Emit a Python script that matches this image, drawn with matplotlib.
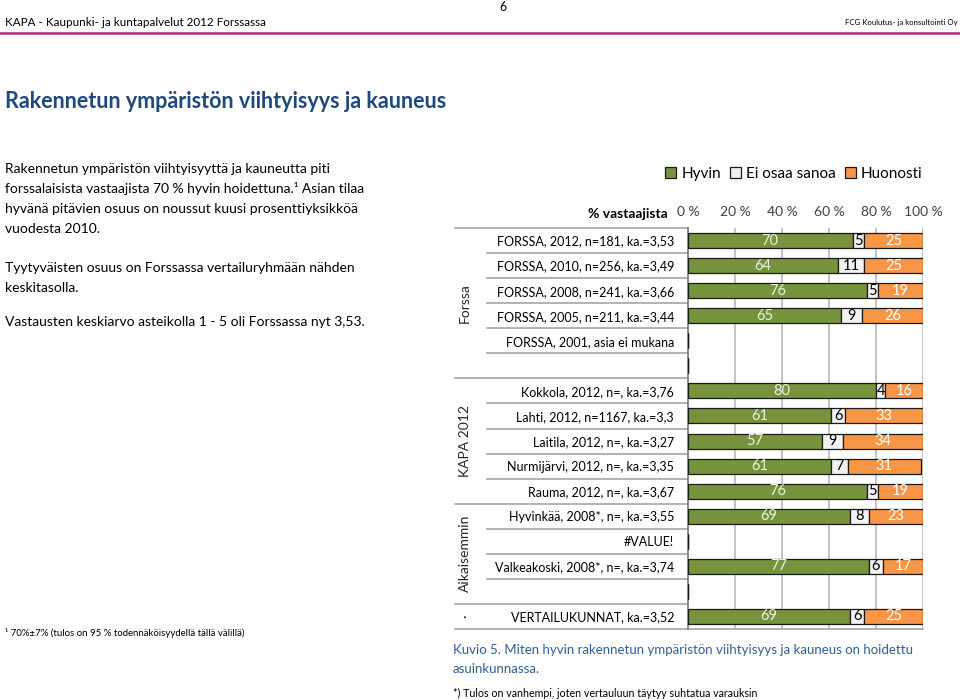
import matplotlib.pyplot as plt
import numpy as np
from matplotlib.lines import Line2D

plt.rcParams['font.family'] = ['Lato', 'DejaVu Sans']

# --- data ---
rows = ["FORSSA, 2012, n=181, ka.=3,53", "FORSSA, 2010, n=256, ka.=3,49",
        "FORSSA, 2008, n=241, ka.=3,66", "FORSSA, 2005, n=211, ka.=3,44",
        "FORSSA, 2001, asia ei mukana", "",
        "Kokkola, 2012, n=, ka.=3,76", "Lahti, 2012, n=1167, ka.=3,3",
        "Laitila, 2012, n=, ka.=3,27", "Nurmijärvi, 2012, n=, ka.=3,35",
        "Rauma, 2012, n=, ka.=3,67", "Hyvinkää, 2008*, n=, ka.=3,55",
        "#VALUE!", "Valkeakoski, 2008*, n=, ka.=3,74", "",
        "VERTAILUKUNNAT, ka.=3,52"]
hyvin = [70, 64, 76, 65, np.nan, np.nan, 80, 61, 57, 61, 76, 69, np.nan, 77, np.nan, 69]
eos = [5, 11, 5, 9, np.nan, np.nan, 4, 6, 9, 7, 5, 8, np.nan, 6, np.nan, 6]
huonosti = [25, 25, 19, 26, np.nan, np.nan, 16, 33, 34, 31, 19, 23, np.nan, 17, np.nan, 25]
series_names = ["Hyvin", "Ei osaa sanoa", "Huonosti"]
groups = [("Forssa", 0, 5), ("KAPA 2012", 6, 10), ("Aikaisemmin", 11, 14), ("·", 15, 15)]
xticks = [0, 20, 40, 60, 80, 100]

colors = ["#77933C", "#F2F2F2", "#F79646"]
txt_colors = ["#EBF1DE", "black", "white"]

W, H = 960, 700
fig = plt.figure(figsize=(9.6, 7), dpi=100)

def fx(px):
    return px / W

def fy(py):
    return 1 - py / H

# --- page header ---
fig.text(fx(503), fy(7), "6", fontsize=9, ha="center", va="center")
fig.text(fx(5), fy(23), "KAPA - Kaupunki- ja kuntapalvelut 2012 Forssassa", fontsize=8.4, va="center")
fig.text(fx(958), fy(23), "FCG Koulutus- ja konsultointi Oy", fontsize=5.6, ha="right", va="center")
fig.add_artist(Line2D([0, 1], [fy(33), fy(33)], color="#B4287F", lw=1.8))
fig.text(fx(5), fy(101), "Rakennetun ympäristön viihtyisyys ja kauneus", fontsize=15.5,
         fontweight="bold", color="#1F497D", va="center")

body = [(173, "Rakennetun ympäristön viihtyisyyttä ja kauneutta piti"),
        (193, "forssalaisista vastaajista 70 % hyvin hoidettuna.¹ Asian tilaa"),
        (213, "hyvänä pitävien osuus on noussut kuusi prosenttiyksikköä"),
        (233, "vuodesta 2010."),
        (272, "Tyytyväisten osuus on Forssassa vertailuryhmään nähden"),
        (292, "keskitasolla."),
        (326, "Vastausten keskiarvo asteikolla 1 - 5 oli Forssassa nyt 3,53.")]
for y, t in body:
    fig.text(fx(5), fy(y), t, fontsize=10, va="baseline")

fig.text(fx(5), fy(633), "¹ 70%±7% (tulos on 95 % todennäköisyydellä tällä välillä)", fontsize=6.9, va="center")
fig.text(fx(453), fy(650), "Kuvio 5. Miten hyvin rakennetun ympäristön viihtyisyys ja kauneus on hoidettu",
         fontsize=9.5, color="#2F6096", va="center")
fig.text(fx(453), fy(669), "asuinkunnassa.", fontsize=9.5, color="#2F6096", va="center")
fig.text(fx(453), fy(693), "*) Tulos on vanhempi, joten vertauluun täytyy suhtatua varauksin", fontsize=7.7, va="center")

# --- chart ---
left, right, top, bottom = 688, 923, 228, 629
ax = fig.add_axes([fx(left), fy(bottom), fx(right - left), (bottom - top) / H])
y = np.arange(len(rows))
start = np.zeros(len(rows))
containers = []
for vals, name, c, tc in zip([hyvin, eos, huonosti], series_names, colors, txt_colors):
    v = np.array(vals, dtype=float)
    bars = ax.barh(y, np.nan_to_num(v), left=start, height=0.6, color=c, edgecolor="#1a1a1a",
                   linewidth=0.9, label=name, zorder=3)
    labels = ["" if np.isnan(a) else f"{a:.0f}" for a in v]
    ax.bar_label(bars, labels=labels, label_type="center", color=tc, fontsize=10.5)
    containers.append(bars)
    start = start + np.nan_to_num(v)

ax.set_xlim(0, 100)
ax.set_ylim(len(rows) - 0.5, -0.5)
ax.xaxis.tick_top()
ax.set_xticks(xticks)
ax.set_xticklabels([f"{t} %" for t in xticks], fontsize=10, color="#404040")
ax.tick_params(axis="x", length=0, pad=7)
ax.set_yticks(y)
ax.set_yticklabels(rows, fontsize=9)
ax.tick_params(axis="y", length=0, pad=10)
for t in xticks[1:]:
    ax.axvline(t, color="#BFBFBF", lw=1.3, zorder=1)
for s in ["top", "right", "bottom"]:
    ax.spines[s].set_visible(False)
ax.spines["left"].set_color("#808080")
ax.spines["left"].set_linewidth(1.3)

ax.text(-0.085, 1 + 14 / (bottom - top), "% vastaajista", transform=ax.transAxes, ha="right",
        va="center", fontsize=10, fontweight="bold")

# separators in label column
trans = ax.get_yaxis_transform()
x_short = (487 - left) / (right - left)
x_long = (455 - left) / (right - left)
group_edges = [g[1] - 0.5 for g in groups] + [len(rows) - 0.5]
for i in range(len(rows) + 1):
    yy = i - 0.5
    if yy in group_edges:
        x1 = 1.0 if yy == len(rows) - 0.5 else 0
        ax.plot([x_long, x1], [yy, yy], transform=trans, color="#A6A6A6", lw=1.2, clip_on=False)
    else:
        ax.plot([x_short, 0], [yy, yy], transform=trans, color="#A6A6A6", lw=1.2, clip_on=False)

for name, a, b in groups:
    ax.text((465 - left) / (right - left), (a + b) / 2, name, transform=trans, rotation=90,
            ha="center", va="center", fontsize=10, color="#262626")

ax.legend(handles=containers, loc="center", bbox_to_anchor=(fx(794), fy(174)),
          bbox_transform=fig.transFigure, ncol=3, frameon=False, fontsize=11,
          handlelength=0.7, handleheight=0.7, handletextpad=0.35, columnspacing=0.6)

fig.savefig("out.png", dpi=100)
